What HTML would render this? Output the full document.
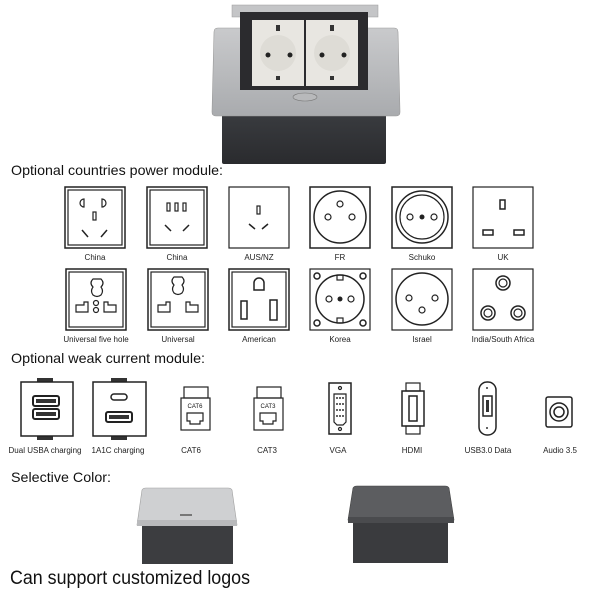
<!DOCTYPE html>
<html><head><meta charset="utf-8"><style>
html,body{margin:0;padding:0;background:#fff;}
svg{display:block;}
text{font-family:"Liberation Sans",Arial,sans-serif;fill:#111;}
.lb{font-size:8px;text-anchor:middle;fill:#222;}
.h{font-size:14px;}
.s{fill:none;stroke:#222;stroke-width:1.2;}
.b{fill:none;stroke:#222;stroke-width:1.5;}
</style></head><body>
<svg width="600" height="600" viewBox="0 0 600 600" xmlns="http://www.w3.org/2000/svg">
<!-- top product -->
<defs>
<linearGradient id="sil" x1="0" y1="0" x2="0" y2="1"><stop offset="0" stop-color="#c9cacc"/><stop offset="1" stop-color="#a9abae"/></linearGradient>
<linearGradient id="blk" x1="0" y1="0" x2="0" y2="1"><stop offset="0" stop-color="#3a3c40"/><stop offset="1" stop-color="#2a2b2e"/></linearGradient>
</defs>
<rect x="222" y="112" width="164" height="52" rx="2" fill="url(#blk)"/>
<rect x="232" y="5" width="146" height="12" fill="#c4c5c7" stroke="#999" stroke-width="0.5"/>
<path d="M214 32 Q214 28 218 28 L394 28 Q398 28 398 32 L400 112 Q400 116 396 116 L216 116 Q212 116 212 112 Z" fill="url(#sil)" stroke="#999" stroke-width="0.6"/>
<rect x="240" y="12" width="128" height="78" fill="#2b2b2e"/>
<rect x="252" y="20" width="52" height="66" fill="#e8e6e1"/>
<rect x="306" y="20" width="52" height="66" fill="#e8e6e1"/>
<circle cx="278" cy="53" r="18" fill="#dedcd6"/><circle cx="332" cy="53" r="18" fill="#dedcd6"/>
<circle cx="268" cy="55" r="2.5" fill="#222"/><circle cx="290" cy="55" r="2.5" fill="#222"/>
<circle cx="322" cy="55" r="2.5" fill="#222"/><circle cx="344" cy="55" r="2.5" fill="#222"/>
<rect x="276" y="25" width="4" height="6" fill="#333"/><rect x="330" y="25" width="4" height="6" fill="#333"/>
<rect x="276" y="76" width="4" height="4" fill="#333"/><rect x="330" y="76" width="4" height="4" fill="#333"/>
<ellipse cx="305" cy="97" rx="12" ry="4" fill="#b8b9bb" stroke="#777" stroke-width="0.6"/>

<text x="11" y="175" class="h" textLength="212" lengthAdjust="spacingAndGlyphs">Optional countries power module:</text>

<!-- row 1 -->
<g>
<rect x="65" y="187" width="60" height="61" class="b"/><rect x="68" y="190" width="54" height="55" class="s"/>
<path d="M84 199 a4 4 0 0 0 0 8 z" class="s"/><path d="M102 199 a4 4 0 0 1 0 8 z" class="s"/>
<rect x="93" y="212" width="3" height="8" class="s"/>
<path d="M82 230 l6 7" class="b" stroke-width="3"/><path d="M107 230 l-6 7" class="b" stroke-width="3"/>
<text x="95" y="260" class="lb">China</text>
</g>
<g>
<rect x="147" y="187" width="60" height="61" class="b"/><rect x="150" y="190" width="54" height="55" class="s"/>
<rect x="167" y="203" width="3" height="8" class="s"/><rect x="175" y="203" width="3" height="8" class="s"/><rect x="183" y="203" width="3" height="8" class="s"/>
<path d="M165 225 l6 6" class="b" stroke-width="3"/><path d="M189 225 l-6 6" class="b" stroke-width="3"/>
<text x="177" y="260" class="lb">China</text>
</g>
<g>
<rect x="229" y="187" width="60" height="61" class="s"/>
<rect x="257" y="206" width="3" height="8" class="s"/>
<path d="M249 224 l6 5" class="b" stroke-width="3"/><path d="M268 224 l-6 5" class="b" stroke-width="3"/>
<text x="259" y="260" class="lb">AUS/NZ</text>
</g>
<g>
<rect x="310" y="187" width="60" height="61" class="b"/>
<circle cx="340" cy="217" r="26" class="b"/>
<circle cx="340" cy="204" r="3" class="s"/><circle cx="328" cy="217" r="3" class="s"/><circle cx="352" cy="217" r="3" class="s"/>
<text x="340" y="260" class="lb">FR</text>
</g>
<g>
<rect x="392" y="187" width="60" height="61" class="b"/>
<circle cx="422" cy="217" r="26" class="b"/><circle cx="422" cy="217" r="22" class="s"/>
<circle cx="410" cy="217" r="3" class="s"/><circle cx="422" cy="217" r="2.5" fill="#222"/><circle cx="434" cy="217" r="3" class="s"/>
<text x="422" y="260" class="lb">Schuko</text>
</g>
<g>
<rect x="473" y="187" width="60" height="61" class="s"/>
<rect x="500" y="200" width="5" height="9" class="b"/>
<rect x="483" y="230" width="10" height="5" class="b"/><rect x="514" y="230" width="10" height="5" class="b"/>
<text x="503" y="260" class="lb">UK</text>
</g>

<!-- row 2 -->
<g>
<rect x="66" y="269" width="60" height="61" class="b"/><rect x="69" y="272" width="54" height="55" class="s"/>
<path d="M93 279 q-4 4 0 8 q-3 4 0 8 q4 3 8 0 q3 -4 0 -8 q4 -4 0 -8 z" class="s"/>
<circle cx="96" cy="303" r="2.5" class="s"/><circle cx="96" cy="310" r="2.5" class="s"/>
<path d="M76 305 h8 v-3 h4 v10 h-12 z" class="s"/><path d="M116 305 h-8 v-3 h-4 v10 h12 z" class="s"/>
<text x="96" y="342" class="lb">Universal five hole</text>
</g>
<g>
<rect x="148" y="269" width="60" height="61" class="b"/><rect x="151" y="272" width="54" height="55" class="s"/>
<path d="M174 277 q-4 4 0 8 q-3 4 0 8 q4 3 8 0 q3 -4 0 -8 q4 -4 0 -8 z" class="s"/>
<path d="M158 305 h8 v-3 h4 v10 h-12 z" class="s"/><path d="M198 305 h-8 v-3 h-4 v10 h12 z" class="s"/>
<text x="178" y="342" class="lb">Universal</text>
</g>
<g>
<rect x="229" y="269" width="60" height="61" class="b"/><rect x="232" y="272" width="54" height="55" class="s"/>
<path d="M254 290 v-7 a5 5 0 0 1 10 0 v7 z" class="b"/>
<rect x="241" y="301" width="6" height="18" class="b"/><rect x="270" y="300" width="7" height="20" class="b"/>
<text x="259" y="342" class="lb">American</text>
</g>
<g>
<rect x="310" y="269" width="60" height="61" class="s"/>
<circle cx="340" cy="299" r="24" class="b"/>
<circle cx="317" cy="276" r="3" class="b"/><circle cx="363" cy="276" r="3" class="b"/><circle cx="317" cy="323" r="3" class="b"/><circle cx="363" cy="323" r="3" class="b"/>
<rect x="337" y="275" width="6" height="5" class="s"/><rect x="337" y="318" width="6" height="5" class="s"/>
<circle cx="329" cy="299" r="3" class="s"/><circle cx="340" cy="299" r="2.5" fill="#222"/><circle cx="351" cy="299" r="3" class="s"/>
<text x="340" y="342" class="lb">Korea</text>
</g>
<g>
<rect x="392" y="269" width="60" height="61" class="s"/>
<circle cx="422" cy="299" r="26" class="b"/>
<circle cx="409" cy="298" r="3" class="s"/><circle cx="435" cy="298" r="3" class="s"/><circle cx="422" cy="310" r="3" class="s"/>
<text x="422" y="342" class="lb">Israel</text>
</g>
<g>
<rect x="473" y="269" width="60" height="61" class="s"/>
<circle cx="503" cy="283" r="7" class="b"/><circle cx="503" cy="283" r="4" class="s"/>
<circle cx="488" cy="313" r="7" class="b"/><circle cx="488" cy="313" r="4" class="s"/>
<circle cx="518" cy="313" r="7" class="b"/><circle cx="518" cy="313" r="4" class="s"/>
<text x="503" y="342" class="lb">India/South Africa</text>
</g>

<text x="11" y="363" class="h" textLength="194" lengthAdjust="spacingAndGlyphs">Optional weak current module:</text>

<!-- weak current row -->
<g>
<rect x="37" y="378" width="16" height="5" fill="#333"/><rect x="37" y="435" width="16" height="5" fill="#333"/>
<rect x="21" y="382" width="52" height="54" fill="#fff" stroke="#222" stroke-width="1.5"/>
<rect x="33" y="396" width="26" height="10" rx="2" fill="#fff" stroke="#222" stroke-width="2"/><rect x="36" y="399" width="20" height="4" fill="#333"/>
<rect x="33" y="409" width="26" height="10" rx="2" fill="#fff" stroke="#222" stroke-width="2"/><rect x="36" y="412" width="20" height="4" fill="#333"/>
<text x="45" y="453" class="lb">Dual USBA charging</text>
</g>
<g>
<rect x="111" y="378" width="16" height="5" fill="#333"/><rect x="111" y="435" width="16" height="5" fill="#333"/>
<rect x="93" y="382" width="53" height="54" fill="#fff" stroke="#222" stroke-width="1.5"/>
<rect x="111" y="394" width="16" height="6" rx="3" fill="#fff" stroke="#222" stroke-width="1.5"/>
<rect x="106" y="412" width="26" height="10" rx="2" fill="#fff" stroke="#222" stroke-width="2"/><rect x="109" y="415" width="20" height="4" fill="#333"/>
<text x="118" y="453" class="lb">1A1C charging</text>
</g>
<g>
<rect x="184" y="387" width="24" height="11" class="s"/>
<rect x="181" y="398" width="29" height="32" class="s"/>
<text x="195" y="408" style="font-size:6px;text-anchor:middle">CAT6</text>
<path d="M187 413 h16 v8 h-3 v3 h-10 v-3 h-3 z" class="s"/>
<text x="191" y="453" class="lb">CAT6</text>
</g>
<g>
<rect x="257" y="387" width="24" height="11" class="s"/>
<rect x="254" y="398" width="29" height="32" class="s"/>
<text x="268" y="408" style="font-size:6px;text-anchor:middle">CAT3</text>
<path d="M260 413 h16 v8 h-3 v3 h-10 v-3 h-3 z" class="s"/>
<text x="267" y="453" class="lb">CAT3</text>
</g>
<g>
<rect x="329" y="383" width="22" height="51" class="b"/>
<path d="M334 394 h12 v28 l-3 3 h-6 l-3 -3 z" class="s"/>
<g fill="#333"><circle cx="337" cy="398" r="1"/><circle cx="340" cy="398" r="1"/><circle cx="343" cy="398" r="1"/>
<circle cx="337" cy="404" r="1"/><circle cx="340" cy="404" r="1"/><circle cx="343" cy="404" r="1"/>
<circle cx="337" cy="410" r="1"/><circle cx="340" cy="410" r="1"/><circle cx="343" cy="410" r="1"/>
<circle cx="337" cy="416" r="1"/><circle cx="340" cy="416" r="1"/><circle cx="343" cy="416" r="1"/></g>
<circle cx="340" cy="388" r="1.5" class="s"/><circle cx="340" cy="429" r="1.5" class="s"/>
<text x="338" y="453" class="lb">VGA</text>
</g>
<g>
<rect x="406" y="383" width="14" height="8" class="s"/><rect x="406" y="426" width="14" height="8" class="s"/>
<rect x="402" y="391" width="22" height="35" class="b"/>
<rect x="409" y="396" width="8" height="25" class="b"/>
<text x="412" y="453" class="lb">HDMI</text>
</g>
<g>
<rect x="479" y="382" width="17" height="53" rx="8" class="b"/>
<rect x="483" y="396" width="9" height="20" class="b"/><rect x="486" y="400" width="3" height="12" fill="#333"/>
<circle cx="487" cy="388" r="1" fill="#333"/><circle cx="487" cy="428" r="1" fill="#333"/>
<text x="488" y="453" class="lb">USB3.0 Data</text>
</g>
<g>
<rect x="546" y="397" width="26" height="30" rx="2" class="b"/>
<circle cx="559" cy="412" r="9" class="b"/><circle cx="559" cy="412" r="5" class="b"/>
<text x="560" y="453" class="lb">Audio 3.5</text>
</g>

<text x="11" y="482" class="h" textLength="100" lengthAdjust="spacingAndGlyphs">Selective Color:</text>

<!-- silver box -->
<rect x="142" y="524" width="91" height="40" fill="#3c3d40"/>
<path d="M142 490 Q143 488 146 488 L228 488 Q231 488 232 490 L237 525 L137 525 Z" fill="#cfd0d2" stroke="#a0a0a0" stroke-width="0.6"/>
<rect x="137" y="520" width="100" height="6" fill="#b9babc"/>
<rect x="180" y="514" width="12" height="2" fill="#777"/>
<!-- dark box -->
<rect x="353" y="522" width="95" height="41" fill="#3a3b3e"/>
<path d="M353 488 Q354 486 357 486 L445 486 Q448 486 449 488 L454 520 L348 520 Z" fill="#5c5d60" stroke="#444" stroke-width="0.6"/>
<rect x="348" y="517" width="106" height="6" fill="#4a4b4e"/>

<text x="10" y="584" style="font-size:19px" textLength="240" lengthAdjust="spacingAndGlyphs">Can support customized logos</text>
</svg>
</body></html>
